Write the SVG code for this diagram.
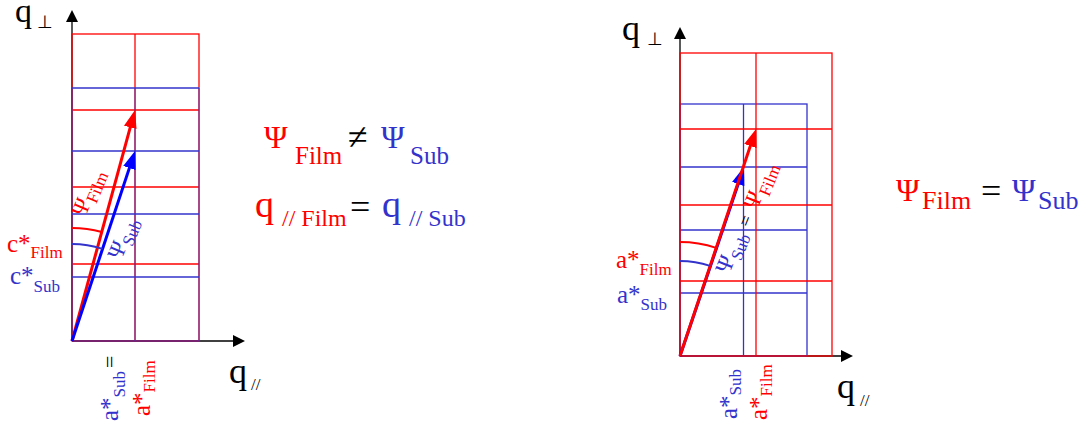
<svg xmlns="http://www.w3.org/2000/svg" width="1091" height="427" viewBox="0 0 1091 427" font-family="'Liberation Serif', serif">
<style>
text{font-family:'Liberation Serif', serif}
.r{fill:#ff0000}
.b{fill:#3333cc}
.k{fill:#000}
.axis{stroke:#000;stroke-width:1.3;fill:none}
.gr{stroke:#ff0000;stroke-width:1.3;fill:none}
.gb{stroke:#3333cc;stroke-width:1.3;fill:none}
.gbv{stroke:#3333cc;stroke-width:1.3;fill:none;stroke-opacity:0.65}
.ar{stroke:#ff0000;stroke-width:3;fill:none}
.ab{stroke:#0000ff;stroke-width:3;fill:none}
.arc-r{stroke:#ff0000;stroke-width:2;fill:none}
.arc-b{stroke:#3333cc;stroke-width:2;fill:none}
</style>
<defs>
<marker id="mk" viewBox="0 0 12 12" refX="10" refY="6" markerWidth="12" markerHeight="12" markerUnits="userSpaceOnUse" orient="auto"><path d="M0,0 L12,6 L0,12 z" fill="#000"/></marker>
<marker id="mr" viewBox="0 0 18 13" refX="10" refY="6.5" markerWidth="18" markerHeight="13" markerUnits="userSpaceOnUse" orient="auto"><path d="M0,0 L18,6.5 L0,13 z" fill="#ff0000"/></marker>
<marker id="mb" viewBox="0 0 18 13" refX="10" refY="6.5" markerWidth="18" markerHeight="13" markerUnits="userSpaceOnUse" orient="auto"><path d="M0,0 L18,6.5 L0,13 z" fill="#0000ff"/></marker>
</defs>

<g id="left-panel">
  <g id="left-axes">
    <line class="axis" x1="72" y1="341" x2="72" y2="12" marker-end="url(#mk)"/>
    <line class="axis" x1="72" y1="341" x2="243" y2="341" marker-end="url(#mk)"/>
  </g>
  <g id="left-grid-film">
    <rect class="gr" x="72" y="34" width="127" height="307"/>
    <line class="gr" x1="135" y1="34" x2="135" y2="341"/>
    <line class="gr" x1="72" y1="110" x2="199" y2="110"/>
    <line class="gr" x1="72" y1="187" x2="199" y2="187"/>
    <line class="gr" x1="72" y1="264" x2="199" y2="264"/>
  </g>
  <g id="left-grid-sub">
    <line class="gbv" x1="72" y1="88" x2="72" y2="341"/>
    <line class="gbv" x1="135" y1="88" x2="135" y2="341"/>
    <line class="gbv" x1="199" y1="88" x2="199" y2="341"/>
    <line class="gb" x1="72" y1="88" x2="199" y2="88"/>
    <line class="gb" x1="72" y1="151" x2="199" y2="151"/>
    <line class="gb" x1="72" y1="214" x2="199" y2="214"/>
    <line class="gb" x1="72" y1="277" x2="199" y2="277"/>
    <line class="gbv" x1="72" y1="341" x2="199" y2="341"/>
  </g>
  <g id="left-vectors">
    <line class="ar" x1="72" y1="341" x2="132.9" y2="117.7" marker-end="url(#mr)"/>
    <line class="ab" x1="72" y1="341" x2="132.5" y2="158.6" marker-end="url(#mb)"/>
    <path class="arc-r" d="M72,228 A113,113 0 0 1 101.8,232"/>
    <path class="arc-b" d="M72,244 A97,97 0 0 1 102.5,248.9"/>
  </g>
  <g id="left-labels">
    <text x="15" y="22" font-size="34" class="k">q<tspan font-size="18" dx="5" dy="6">⊥</tspan></text>
    <text x="229" y="383" font-size="36" class="k">q<tspan font-size="17" dx="4" dy="7">//</tspan></text>
    <text x="7" y="252" font-size="25" class="r">c*<tspan font-size="17" dy="6">Film</tspan></text>
    <text x="10" y="284" font-size="25" class="b">c*<tspan font-size="17" dy="8">Sub</tspan></text>
    <text transform="translate(118,421) rotate(-90)" font-size="25" class="b">a*<tspan font-size="17" dy="7">Sub</tspan><tspan font-size="22" dx="3" dy="-8" class="k">=</tspan></text>
    <text transform="translate(150,416) rotate(-90)" font-size="25" class="r">a*<tspan font-size="17" dy="5">Film</tspan></text>
    <text transform="translate(85,218) rotate(-67)" font-size="23" class="r">Ψ<tspan font-size="17" dy="5">Film</tspan></text>
    <text transform="translate(121,261) rotate(-67)" font-size="23" class="b">Ψ<tspan font-size="17" dy="5">Sub</tspan></text>
  </g>
</g>

<g id="left-relations">
  <text y="148" font-size="32"><tspan x="264" class="r">Ψ</tspan><tspan x="295" y="164" font-size="25" class="r">Film</tspan><tspan x="348" y="149" font-size="36" class="k">≠</tspan><tspan x="381" y="148" class="b">Ψ</tspan><tspan x="410" y="164" font-size="25" class="b">Sub</tspan></text>
  <text y="217" font-size="38"><tspan x="255" class="r">q</tspan><tspan x="282" y="226" font-size="24" class="r">// Film</tspan><tspan x="350" y="219" font-size="36" class="k">=</tspan><tspan x="382" y="217" class="b">q</tspan><tspan x="409" y="226" font-size="24" class="b">// Sub</tspan></text>
</g>

<g id="right-panel">
  <g id="right-axes">
    <line class="axis" x1="680" y1="356" x2="680" y2="29" marker-end="url(#mk)"/>
    <line class="axis" x1="680" y1="356" x2="851" y2="356" marker-end="url(#mk)"/>
  </g>
  <g id="right-grid-sub">
    <rect class="gb" x="680" y="104" width="127" height="252"/>
    <line class="gb" x1="743.5" y1="104" x2="743.5" y2="356"/>
    <line class="gb" x1="680" y1="167" x2="807" y2="167"/>
    <line class="gb" x1="680" y1="230" x2="807" y2="230"/>
    <line class="gb" x1="680" y1="293" x2="807" y2="293"/>
  </g>
  <g id="right-grid-film">
    <rect class="gr" x="680" y="53" width="152" height="303"/>
    <line class="gr" x1="756" y1="53" x2="756" y2="356"/>
    <line class="gr" x1="680" y1="129" x2="832" y2="129"/>
    <line class="gr" x1="680" y1="205" x2="832" y2="205"/>
    <line class="gr" x1="680" y1="281" x2="832" y2="281"/>
  </g>
  <g id="right-vectors">
    <line class="ab" x1="680" y1="356" x2="741.4" y2="174.6" marker-end="url(#mb)"/>
    <line class="ar" x1="680" y1="356" x2="753.5" y2="136.6" marker-end="url(#mr)"/>
    <path class="arc-r" d="M680,242 A114,114 0 0 1 716.2,247.9"/>
    <path class="arc-b" d="M680,261 A95,95 0 0 1 710.1,265.9"/>
  </g>
  <g id="right-labels">
    <text x="622" y="40" font-size="36" class="k">q<tspan font-size="18" dx="7" dy="5">⊥</tspan></text>
    <text x="837" y="398" font-size="36" class="k">q<tspan font-size="17" dx="5" dy="8">//</tspan></text>
    <text x="616" y="268" font-size="25" class="r">a*<tspan font-size="17" dy="7">Film</tspan></text>
    <text x="617" y="303" font-size="25" class="b">a*<tspan font-size="17" dy="7">Sub</tspan></text>
    <text transform="translate(737,419) rotate(-90)" font-size="25" class="b">a*<tspan font-size="17" dy="4">Sub</tspan></text>
    <text transform="translate(767,420) rotate(-90)" font-size="25" class="r">a*<tspan font-size="17" dy="5">Film</tspan></text>
    <text transform="translate(729,275) rotate(-68)" font-size="23"><tspan x="0" y="0" class="b">Ψ</tspan><tspan x="17" y="6" font-size="17" class="b">Sub</tspan><tspan x="51" y="1" font-size="19" class="k">=</tspan><tspan x="70" y="2" class="r">Ψ</tspan><tspan x="87" y="8" font-size="17" class="r">Film</tspan></text>
  </g>
</g>

<g id="right-relation">
  <text y="201" font-size="32"><tspan x="896" class="r">Ψ</tspan><tspan x="922" y="209" font-size="26" class="r">Film</tspan><tspan x="981" y="203" font-size="36" class="k">=</tspan><tspan x="1012" y="201" class="b">Ψ</tspan><tspan x="1038" y="209" font-size="26" class="b">Sub</tspan></text>
</g>
</svg>
